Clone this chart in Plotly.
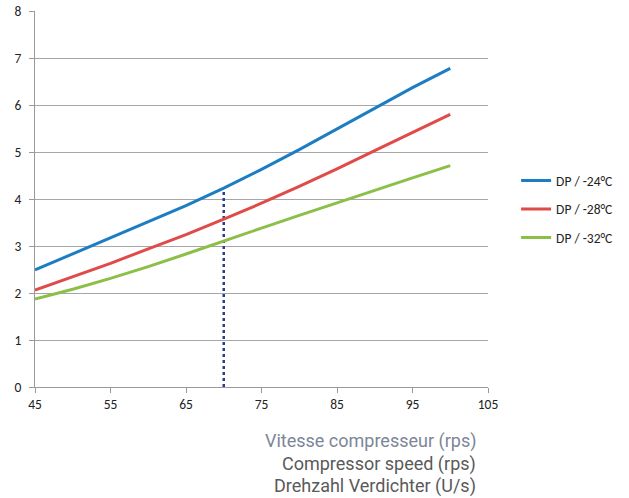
import plotly.graph_objects as go

speed = [45, 50, 55, 60, 65, 70, 75, 80, 85, 90, 95, 100]
dp_24 = [2.49, 2.83, 3.18, 3.52, 3.86, 4.23, 4.63, 5.05, 5.49, 5.93, 6.37, 6.78]
dp_28 = [2.06, 2.34, 2.63, 2.94, 3.24, 3.57, 3.91, 4.27, 4.64, 5.03, 5.42, 5.80]
dp_32 = [1.87, 2.08, 2.31, 2.56, 2.83, 3.11, 3.38, 3.65, 3.92, 4.18, 4.45, 4.71]
series_names = ["DP / -24°C", "DP / -28°C", "DP / -32°C"]
colors = ["#1D7DC2", "#E04B4A", "#8CBF48"]
marker_x = [70, 70]
marker_y = [0, 4.23]
x_ticks = [45, 55, 65, 75, 85, 95, 105]
y_ticks = [0, 1, 2, 3, 4, 5, 6, 7, 8]
axis_titles = ["Vitesse compresseur (rps)", "Compressor speed (rps)", "Drehzahl Verdichter (U/s)"]
title_colors = ["#7C8698", "#5A5A5A", "#5A5A5A"]

fig = go.Figure()
fig.add_trace(go.Scatter(x=marker_x, y=marker_y, mode="lines",
                         line=dict(color="#2E3A8C", width=2.5, dash="dot"),
                         showlegend=False, hoverinfo="skip"))
for name, vals, c in zip(series_names, [dp_24, dp_28, dp_32], colors):
    fig.add_trace(go.Scatter(x=speed, y=vals, mode="lines", name=name,
                             legendgroup=name,
                             line=dict(color=c, width=3)))

fig.update_layout(
    width=629, height=498,
    margin=dict(l=35, r=141, t=11, b=111),
    plot_bgcolor="white", paper_bgcolor="white",
    font=dict(family="Carlito, Lato, Liberation Sans, sans-serif", size=13.5, color="#222"),
    legend=dict(x=1.062, y=0.473, xanchor="left", yanchor="middle",
                tracegroupgap=8, font=dict(size=13.5, color="#222"),
                bgcolor="rgba(0,0,0,0)", itemwidth=30),
    xaxis=dict(range=[45, 105], tickvals=x_ticks, showgrid=False,
               showline=True, linecolor="#9a9a9a", linewidth=1,
               ticks="outside", ticklen=5, tickcolor="#9a9a9a",
               ticklabeloverflow="allow",
               zeroline=False, fixedrange=True, automargin=False),
    yaxis=dict(range=[0, 8], tickvals=y_ticks, showgrid=True,
               gridcolor="#a6a6a6", gridwidth=1,
               showline=True, linecolor="#9a9a9a", linewidth=1,
               ticks="outside", ticklen=5, tickcolor="#9a9a9a",
               ticklabeloverflow="allow", ticklabelstandoff=5,
               zeroline=False, fixedrange=True, automargin=False),
)

ys = [441, 464, 486]
for t, c, py in zip(axis_titles, title_colors, ys):
    fig.add_annotation(text=t, xref="paper", yref="paper",
                       x=(478 - 35) / 453, y=(387 - py) / 376,
                       xanchor="right", yanchor="middle", showarrow=False,
                       font=dict(family="Roboto, sans-serif", size=18, color=c))

fig.write_html("out.html", config={"displayModeBar": False},
               post_script="document.body.style.margin='0';")
